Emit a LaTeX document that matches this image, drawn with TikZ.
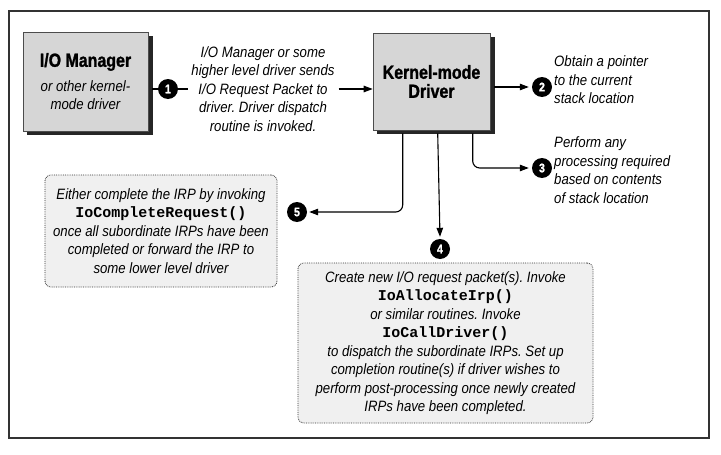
\documentclass[tikz,border=0pt]{standalone}
\usepackage{fontspec}
\setmainfont{Liberation Sans}
\newfontfamily\nf[FakeStretch=0.88]{Liberation Sans}
\newfontfamily\hf[FakeStretch=0.84,FakeBold=1.2]{Liberation Sans}
\newfontfamily\cf{Liberation Mono}
\usetikzlibrary{arrows.meta,calc}
\frenchspacing
\newcommand{\itx}{\nf\itshape\mdseries\fontsize{15}{18.5}\selectfont\frenchspacing}
\newcommand{\cdx}{\cf\bfseries\upshape\fontsize{15}{18.5}\selectfont}
\newcommand{\hdx}{\hf\bfseries\upshape\fontsize{19}{19}\selectfont}
\begin{document}
\begin{tikzpicture}[x=1pt,y=-1pt,
  solidbox/.style={draw=black!70, line width=0.6pt, fill=gray!32, inner sep=0pt, align=center},
  shadowfill/.style={fill=black!85},
  dotbox/.style={draw=black!80, densely dotted, line width=0.8pt, fill=gray!12, rounded corners=6pt,
    inner sep=0pt, align=center, font=\itx},
  num/.style={circle, fill=black, text=white, minimum size=20pt, inner sep=0pt,
    font=\hf\bfseries\fontsize{12.5}{12.5}\selectfont},
  txt/.style={inner sep=0pt, font=\itx},
  conn/.style={line width=1.1pt, black},
  arr/.style={conn, -{Triangle[length=9pt,width=6.5pt]}}
]
\useasboundingbox (0,0) rectangle (721,455);
\fill[white] (0,0) rectangle (721,455);
\draw[line width=1.2pt, black!80] (9,11) rectangle (709,438);

% shadows of main boxes
\fill[shadowfill] (27,36) rectangle (152.5,135);
\fill[shadowfill] (377,37) rectangle (494.5,134);

% main boxes
\node[solidbox, font=\itx, minimum width=125pt, minimum height=99pt] (iom) at (85.5,81.5)
  {\hdx I/O Manager\\[6pt]or other kernel-\\mode driver};
\node[solidbox, font=\hdx, minimum width=117pt, minimum height=97pt] (kmd) at (431.5,81.5)
  {Kernel-mode\\Driver};

% numbered circles
\node[num] (c1) at (168,89) {1};
\node[num] (c2) at (542,87) {2};
\node[num] (c3) at (542,168) {3};
\node[num] (c4) at (440,249) {4};
\node[num] (c5) at (297,212) {5};

% texts
\node[txt, align=center] (t1) at (263,89)
  {I/O Manager or some\\higher level driver sends\\I/O Request Packet to\\driver. Driver dispatch\\routine is invoked.};
\node[txt, align=left, anchor=west] (t2) at (554,80)
  {Obtain a pointer\\to the current\\stack location};
\node[txt, align=left, anchor=west] (t3) at (554,170)
  {Perform any\\processing required\\based on contents\\of stack location};

% dotted boxes
\node[dotbox, minimum width=232pt, minimum height=112pt] (b5) at (161,231)
  {Either complete the IRP by invoking\\\cdx IoCompleteRequest()\\once all subordinate IRPs have been\\completed or forward the IRP to\\some lower level driver};
\node[dotbox, minimum width=295pt, minimum height=160pt] (b4) at (445.5,343)
  {Create new I/O request packet(s). Invoke\\\cdx IoAllocateIrp()\\or similar routines. Invoke\\\cdx IoCallDriver()\\to dispatch the subordinate IRPs. Set up\\completion routine(s) if driver wishes to\\perform post-processing once newly created\\IRPs have been completed.};

% connectors
\coordinate (k5) at ($(kmd.south west)+(30,3)$);
\coordinate (k4) at ($(kmd.south west)+(65,3)$);
\coordinate (k3) at ($(kmd.south west)+(100,3)$);

\draw[conn] ([xshift=4pt]iom.east |- c1) -- (c1.west);
\draw[conn] (c1.east) -- ([xshift=-3pt]t1.west);
\draw[arr] ([xshift=4pt]t1.east) -- (kmd.west |- t1);
\draw[arr] ([xshift=4pt]kmd.east |- c2) -- ([xshift=-3pt]c2.west);
\draw[arr, rounded corners=7pt] (k3) |- ([xshift=-3pt]c3.west);
\draw[arr] (k4) -- ([yshift=2pt]c4.north);
\draw[arr, rounded corners=7pt] (k5) |- ([xshift=2pt]c5.east);
\end{tikzpicture}
\end{document}
